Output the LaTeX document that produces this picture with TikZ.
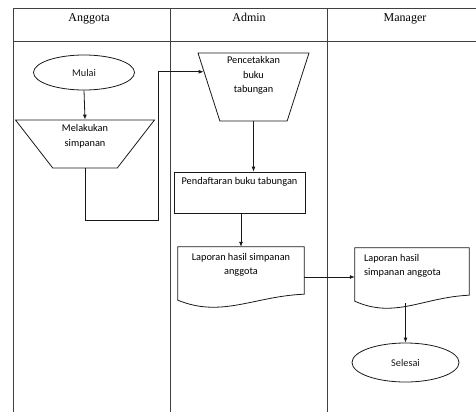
\documentclass[tikz,border=0pt]{standalone}
\usepackage{fontspec}
\setmainfont{Carlito}
\newfontfamily\judulfont{Liberation Serif}
\usetikzlibrary{shapes.geometric,arrows.meta}

\begin{document}
\begin{tikzpicture}[
        x=1pt, y=-1pt,
        >={Latex[length=5pt,width=4pt]},
        garis/.style={line width=0.8pt, black!90},
        lajur/.style={line width=1pt, black!75},
        judul/.style={font=\judulfont\fontsize{12}{14}\selectfont, anchor=base},
        teks/.style={font=\fontsize{10.3}{14.5}\selectfont, align=center, inner sep=2pt},
        terminal/.style={garis, draw, ellipse, font=\fontsize{10.3}{12}\selectfont},
        manual/.style={garis, draw, trapezium, shape border rotate=180, trapezium stretches=true},
        proses/.style={garis, draw, rectangle},
        dokumen/.style={rectangle, minimum height=55pt},
    ]
    \useasboundingbox (0,0) rectangle (476,412);

    % lajur
    \draw[lajur] (13,412) -- (13,9) -- (476,9);
    \draw[lajur] (13,42) -- (476,42);
    \draw[lajur] (170,9) -- (170,412);
    \draw[lajur] (327,9) -- (327,412);
    \node[judul] (anggota) at (89,22) {Anggota};
    \node[judul] (admin) at (249,22) {Admin};
    \node[judul] (manager) at (405,22) {Manager};

    % anggota
    \node[terminal, minimum width=101pt, minimum height=35pt] (mulai) at (84,72.5) {Mulai};
    \node[manual, trapezium angle=60, minimum width=139pt, minimum height=48pt,
        label={[teks, anchor=north, yshift=-3pt]north:{Melakukan\\simpanan}}] (simpan) at (85,144) {};
    \coordinate (belok) at (158,220);

    % admin
    \node[manual, trapezium angle=72, minimum width=111pt, minimum height=68pt,
        label={[teks, anchor=north, yshift=-2pt]north:{Pencetakkan\\buku\\tabungan}}] (cetak) at (253.5,87) {};
    \node[proses, minimum width=131pt, minimum height=41pt,
        label={[teks, anchor=north, yshift=-4pt]north:{Pendaftaran buku tabungan}}] (daftar) at (239.5,192.5) {};
    \node[dokumen, minimum width=126pt,
        label={[teks, anchor=north, yshift=-4pt]north:{Laporan hasil simpanan\\anggota}}] (lapA) at (241,274.5) {};
    \draw[garis] (lapA.north west) -- (lapA.north east) -- ([yshift=8pt]lapA.south east)
        .. controls +(-50,2) and +(44,18) .. ([yshift=2pt]lapA.south west) -- cycle;

    % manager
    \node[dokumen, minimum width=114pt,
        label={[teks, align=left, anchor=north west, xshift=7pt, yshift=-4pt]north west:{Laporan hasil\\simpanan anggota}}] (lapM) at (412,275.5) {};
    \draw[garis] (lapM.north west) -- (lapM.north east) -- ([yshift=8pt]lapM.south east)
        .. controls +(-46,2) and +(40,18) .. ([yshift=2pt]lapM.south west) -- cycle;
    \node[terminal, minimum width=107pt, minimum height=39pt] (selesai) at (405.5,362.5) {Selesai};

    % alur
    \draw[garis, ->] (mulai.south) -- (simpan.north);
    \draw[garis, ->] (simpan.south) |- (belok) |- (cetak.163);
    \draw[garis, ->] (cetak.south) -- (cetak.south |- daftar.north);
    \draw[garis, ->] (daftar.south -| lapA.north) -- (lapA.north);
    \draw[garis, ->] ([yshift=-2.5pt]lapA.east) -- ([yshift=-2.5pt]lapA.east -| lapM.west);
    \draw[garis, ->] (selesai.north |- lapM.south) -- (selesai.north);
\end{tikzpicture}
\end{document}
